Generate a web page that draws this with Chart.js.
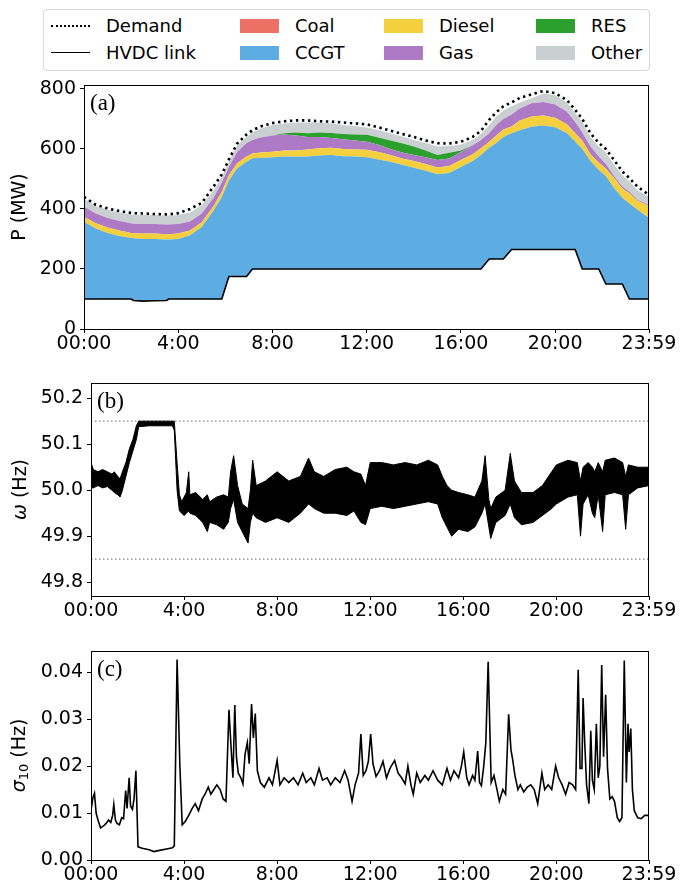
<!DOCTYPE html>
<html lang="en">
<head>
<meta charset="UTF-8">
<title>Dispatch, frequency and sigma10 over one day</title>
<style>
  body { margin: 0; background: #fff; font-family: "DejaVu Sans", sans-serif; }
  #fig { position: relative; width: 681px; height: 888px; overflow: hidden; }
  #fig canvas { position: absolute; left: 0; }
  #legend { position: absolute; left: 43px; top: 9px; width: 605px; height: 60px;
            border: 1px solid #d6d6d6; border-radius: 4px; box-sizing: content-box; }
  .lg-handle { position: absolute; width: 39px; }
  .lg-text { position: absolute; font-size: 18px; line-height: 20px; color: #000; white-space: nowrap; }
</style>
</head>
<body>
<div id="fig">
  <div id="legend"></div>
  <canvas id="powerChart" width="681" height="290" style="top:75px"></canvas>
  <canvas id="freqChart" width="681" height="260" style="top:370px"></canvas>
  <canvas id="sigmaChart" width="681" height="253" style="top:635px"></canvas>
</div>

<script src="https://cdn.jsdelivr.net/npm/chart.js"></script>
<script>
// ---- panel (a): power by source, MW ----
const hours = [0, 0.5, 1, 1.5, 2, 2.1, 2.5, 3, 3.5, 3.6, 4, 4.5, 5, 5.5, 5.85, 6.15, 6.5, 6.9, 7.15, 7.5,
  8, 8.5, 9, 9.5, 10, 10.5, 11, 11.5, 12, 12.5, 13, 13.5, 14, 14.5, 15, 15.5, 16, 16.5, 16.85, 17.2,
  17.5, 17.8, 18.15, 18.5, 19, 19.5, 20, 20.5, 20.85, 21.15, 21.5, 21.85, 22.15, 22.5, 22.85, 23.15, 23.5, 23.983];
const hvdc = [100, 100, 100, 100, 100, 95, 93, 94, 95, 100, 100, 100, 100, 100, 100, 175, 175, 175, 200, 200,
  200, 200, 200, 200, 200, 200, 200, 200, 200, 200, 200, 200, 200, 200, 200, 200, 200, 200, 200, 233,
  233, 233, 265, 265, 265, 265, 265, 265, 265, 200, 200, 200, 150, 150, 150, 100, 100, 100];
const coal = [0, 0, 0, 0, 0, 0, 0, 0, 0, 0, 0, 0, 0, 0, 0, 0, 0, 0, 0, 0,
  0, 0, 0, 0, 0, 0, 0, 0, 0, 0, 0, 0, 0, 0, 0, 0, 0, 0, 0, 0,
  0, 0, 0, 0, 0, 0, 0, 0, 0, 0, 0, 0, 0, 0, 0, 0, 0, 0];
const ccgt = [257, 235, 220, 210, 203, 207, 207, 206, 203, 198, 200, 212, 240, 295, 340, 320, 360, 382, 369, 370,
  372, 375, 374, 375, 378, 380, 376, 375, 372, 365, 357, 347, 337, 327, 316, 320, 340, 360, 380, 371,
  387, 407, 387, 397, 409, 413, 407, 387, 360, 400, 360, 330, 360, 320, 287, 318, 297, 270];
const diesel = [16, 17, 18, 18, 17, 17, 18, 18, 18, 18, 18, 16, 16, 15, 17, 17, 17, 18, 16, 18,
  19, 20, 21, 23, 24, 24, 24, 23, 25, 25, 23, 21, 23, 23, 22, 23, 23, 22, 22, 20,
  25, 25, 23, 33, 34, 33, 32, 30, 27, 28, 22, 25, 25, 33, 31, 34, 30, 40];
const gas = [35, 33, 32, 32, 32, 32, 32, 32, 32, 32, 32, 30, 29, 27, 31, 28, 38, 45, 45, 50,
  54, 53, 50, 42, 38, 32, 32, 30, 27, 24, 20, 20, 20, 22, 25, 25, 27, 30, 28, 28,
  35, 35, 40, 40, 44, 45, 44, 42, 38, 27, 26, 20, 15, 7, 7, 5, 4, 3];
const res = [0, 0, 0, 0, 0, 0, 0, 0, 0, 0, 0, 0, 0, 0, 0, 0, 0, 0, 0, 0,
  0, 4, 10, 12, 15, 17, 18, 20, 23, 24, 28, 31, 28, 23, 17, 19, 5, 0, 0, 0,
  0, 0, 0, 0, 0, 0, 0, 0, 0, 0, 0, 0, 0, 0, 0, 0, 0, 0];
const other = [27, 25, 28, 28, 30, 30, 30, 30, 30, 30, 30, 30, 27, 25, 19, 18, 22, 20, 25, 30,
  35, 33, 33, 36, 33, 32, 30, 28, 24, 25, 24, 22, 22, 25, 28, 23, 20, 18, 20, 28,
  28, 28, 27, 20, 17, 29, 32, 31, 30, 35, 32, 33, 38, 38, 37, 35, 31, 28];
const demand = [440, 414, 402, 393, 387, 386, 385, 383, 382, 382, 386, 400, 420, 475, 515, 565, 618, 648, 662, 675,
  686, 692, 695, 695, 692, 691, 688, 685, 682, 672, 661, 650, 640, 628, 619, 618, 624, 640, 660, 697,
  722, 742, 755, 770, 782, 793, 786, 763, 730, 700, 652, 620, 600, 563, 525, 503, 474, 447];

// ---- panel (b): frequency envelope, Hz ----
const freqHours = [0, 0.1, 0.3, 0.5, 0.7, 0.9, 1, 1.15, 1.25, 1.35, 1.5, 1.65, 1.8, 1.95, 2.05, 2.5, 3, 3.5, 3.58, 3.7,
  3.8, 3.9, 4, 4.1, 4.2, 4.25, 4.5, 4.8, 5, 5.1, 5.4, 5.7, 5.9, 6, 6.13, 6.3, 6.5, 6.75, 6.85, 6.95,
  7.1, 7.5, 8, 8.5, 9, 9.35, 9.6, 10, 10.5, 11, 11.3, 11.6, 11.8, 12, 12.5, 13, 13.5, 14, 14.5, 14.9,
  15.1, 15.3, 15.5, 15.8, 16.2, 16.5, 16.8, 16.94, 17.1, 17.18, 17.4, 17.8, 18.02, 18.2, 18.5, 19, 19.4, 19.8, 20, 20.5,
  20.9, 21.04, 21.15, 21.37, 21.55, 21.65, 21.8, 21.99, 22.1, 22.5, 22.85, 22.98, 23.1, 23.5, 23.983];
const freqHigh = [50.060, 50.045, 50.040, 50.045, 50.040, 50.035, 50.040, 50.030, 50.025, 50.040, 50.060, 50.090, 50.110, 50.140, 50.150, 50.150, 50.150, 50.150, 50.150, 50.060,
  49.990, 49.975, 49.985, 49.995, 50.040, 49.990, 49.995, 49.980, 49.990, 49.975, 49.985, 49.990, 49.985, 50.040, 50.075, 50.010, 49.970, 49.960, 50.000, 50.065,
  50.010, 50.020, 50.040, 50.020, 50.030, 50.070, 50.040, 50.030, 50.045, 50.050, 50.040, 50.035, 50.010, 50.060, 50.060, 50.055, 50.060, 50.055, 50.065, 50.055,
  50.030, 50.010, 50.000, 49.995, 49.990, 49.985, 50.020, 50.075, 49.980, 49.960, 49.985, 50.000, 50.080, 50.020, 49.995, 49.995, 50.010, 50.040, 50.055, 50.065,
  50.060, 50.020, 50.050, 50.060, 50.050, 50.040, 50.060, 50.040, 50.065, 50.070, 50.060, 50.030, 50.055, 50.050, 50.050];
const freqLow = [50.005, 50.005, 50.010, 50.005, 50.008, 50.000, 49.995, 49.990, 49.985, 50.000, 50.030, 50.060, 50.085, 50.110, 50.138, 50.140, 50.140, 50.140, 50.130, 50.000,
  49.955, 49.950, 49.945, 49.950, 49.955, 49.950, 49.945, 49.930, 49.910, 49.930, 49.925, 49.915, 49.930, 49.960, 49.980, 49.930, 49.910, 49.885, 49.930, 49.950,
  49.940, 49.930, 49.940, 49.930, 49.950, 49.970, 49.960, 49.950, 49.950, 49.945, 49.955, 49.930, 49.925, 49.960, 49.965, 49.960, 49.965, 49.970, 49.975, 49.970,
  49.940, 49.920, 49.900, 49.915, 49.910, 49.920, 49.950, 49.970, 49.920, 49.895, 49.930, 49.945, 49.970, 49.940, 49.925, 49.930, 49.945, 49.960, 49.970, 49.985,
  49.990, 49.900, 49.970, 49.990, 49.950, 49.940, 49.990, 49.910, 49.990, 49.995, 49.990, 49.915, 49.990, 50.005, 50.010];
const freqLimits = [50.15, 49.85];

// ---- panel (c): sigma10, Hz ----
const sigmaHours = [0, 0.08, 0.15, 0.22, 0.3, 0.41, 0.55, 0.65, 0.75, 0.85, 0.93, 0.98, 1.05, 1.12, 1.22, 1.32, 1.4, 1.49, 1.55, 1.64,
  1.7, 1.78, 1.85, 1.93, 2.02, 2.2, 2.5, 2.7, 3, 3.3, 3.5, 3.58, 3.7, 3.82, 3.92, 4.05, 4.2, 4.35, 4.48, 4.62,
  4.78, 4.9, 5.04, 5.15, 5.28, 5.41, 5.55, 5.68, 5.8, 5.93, 6.02, 6.1, 6.18, 6.25, 6.33, 6.44, 6.53, 6.62, 6.72, 6.8,
  6.9, 6.98, 7.06, 7.15, 7.28, 7.45, 7.65, 7.8, 8, 8.12, 8.3, 8.5, 8.7, 8.9, 9.1, 9.25, 9.45, 9.6, 9.8, 9.95,
  10.15, 10.3, 10.5, 10.7, 10.9, 11.05, 11.22, 11.35, 11.5, 11.6, 11.7, 11.82, 11.92, 12.02, 12.12, 12.25, 12.4, 12.55, 12.7, 12.85,
  13.05, 13.2, 13.35, 13.5, 13.62, 13.75, 13.85, 14, 14.15, 14.35, 14.5, 14.7, 14.9, 15.1, 15.3, 15.45, 15.6, 15.8, 15.92, 16.02,
  16.15, 16.25, 16.4, 16.5, 16.62, 16.7, 16.78, 16.88, 16.97, 17.07, 17.2, 17.32, 17.45, 17.55, 17.7, 17.82, 17.95, 18.05, 18.12, 18.22,
  18.35, 18.45, 18.6, 18.75, 18.9, 19.05, 19.2, 19.38, 19.5, 19.65, 19.8, 19.97, 20.1, 20.25, 20.4, 20.55, 20.7, 20.83, 20.94, 21.02,
  21.1, 21.15, 21.22, 21.3, 21.4, 21.48, 21.55, 21.63, 21.72, 21.8, 21.87, 21.95, 22.03, 22.12, 22.2, 22.3, 22.4, 22.5, 22.62, 22.72,
  22.82, 22.92, 23.01, 23.08, 23.13, 23.2, 23.27, 23.35, 23.5, 23.65, 23.8, 23.983];
const sigma10 = [0.0105, 0.0132, 0.0142, 0.0100, 0.0085, 0.0068, 0.0073, 0.0078, 0.0085, 0.0080, 0.0095, 0.0118, 0.0085, 0.0078, 0.0075, 0.0090, 0.0088, 0.0148, 0.0110, 0.0175,
  0.0115, 0.0108, 0.0130, 0.0190, 0.0028, 0.0025, 0.0022, 0.0018, 0.0021, 0.0024, 0.0026, 0.0030, 0.0427, 0.0200, 0.0075, 0.0082, 0.0095, 0.0110, 0.0120, 0.0105,
  0.0130, 0.0140, 0.0155, 0.0140, 0.0150, 0.0160, 0.0150, 0.0130, 0.0125, 0.0320, 0.0240, 0.0175, 0.0330, 0.0220, 0.0185, 0.0175, 0.0162, 0.0225, 0.0250, 0.0205,
  0.0332, 0.0260, 0.0312, 0.0190, 0.0165, 0.0155, 0.0175, 0.0160, 0.0212, 0.0160, 0.0175, 0.0165, 0.0175, 0.0160, 0.0185, 0.0165, 0.0175, 0.0160, 0.0195, 0.0170,
  0.0175, 0.0160, 0.0175, 0.0165, 0.0190, 0.0170, 0.0125, 0.0160, 0.0185, 0.0268, 0.0180, 0.0190, 0.0210, 0.0268, 0.0205, 0.0178, 0.0190, 0.0210, 0.0175, 0.0195,
  0.0212, 0.0185, 0.0175, 0.0162, 0.0200, 0.0160, 0.0140, 0.0185, 0.0165, 0.0180, 0.0170, 0.0190, 0.0170, 0.0160, 0.0195, 0.0170, 0.0190, 0.0175, 0.0200, 0.0230,
  0.0175, 0.0160, 0.0180, 0.0170, 0.0232, 0.0165, 0.0158, 0.0200, 0.0250, 0.0422, 0.0165, 0.0180, 0.0150, 0.0125, 0.0150, 0.0140, 0.0310, 0.0235, 0.0215, 0.0180,
  0.0150, 0.0160, 0.0145, 0.0155, 0.0160, 0.0150, 0.0120, 0.0185, 0.0150, 0.0160, 0.0150, 0.0200, 0.0175, 0.0160, 0.0140, 0.0165, 0.0160, 0.0150, 0.0405, 0.0195,
  0.0195, 0.0345, 0.0250, 0.0160, 0.0120, 0.0275, 0.0170, 0.0150, 0.0290, 0.0175, 0.0200, 0.0415, 0.0220, 0.0352, 0.0195, 0.0130, 0.0135, 0.0125, 0.0090, 0.0082,
  0.0090, 0.0425, 0.0165, 0.0290, 0.0230, 0.0280, 0.0150, 0.0105, 0.0090, 0.0088, 0.0095, 0.0095];

// ---- axes ----
const xTickHours = [0, 4, 8, 12, 16, 20, 23.983];
const xTickLabels = ['00:00', '4:00', '8:00', '12:00', '16:00', '20:00', '23:59'];
const powerTicks = [0, 200, 400, 600, 800];
const freqTicks = [49.8, 49.9, 50.0, 50.1, 50.2];
const sigmaTicks = [0, 0.01, 0.02, 0.03, 0.04];

const sourceNames = ['Coal', 'CCGT', 'Diesel', 'Gas', 'RES', 'Other'];
const sourceColors = ['#ec7063', '#5dade2', '#f4d03f', '#af7ac5', '#2ca02c', '#cacfd2'];

const FONT = 'DejaVu Sans';
const tickFont = { family: FONT, size: 19 };

// legend, laid out column by column like the original figure
const legendCols = [
  [{ name: 'Demand', line: 'dotted' }, { name: 'HVDC link', line: 'solid' }],
  [{ name: 'Coal', color: sourceColors[0] }, { name: 'CCGT', color: sourceColors[1] }],
  [{ name: 'Diesel', color: sourceColors[2] }, { name: 'Gas', color: sourceColors[3] }],
  [{ name: 'RES', color: sourceColors[4] }, { name: 'Other', color: sourceColors[5] }]
];
const legendColX = [7, 196, 340, 492];
const legendRowY = [16, 43];
(function buildLegend() {
  const box = document.getElementById('legend');
  legendCols.forEach((col, c) => col.forEach((item, r) => {
    const h = document.createElement('div');
    h.className = 'lg-handle';
    h.style.left = legendColX[c] + 'px';
    if (item.line) {
      h.style.top = (legendRowY[r] - 1) + 'px';
      h.style.height = '0';
      h.style.borderTop = item.line === 'dotted' ? '2px dotted #000' : '1.5px solid #000';
    } else {
      h.style.top = (legendRowY[r] - 7) + 'px';
      h.style.height = '14px';
      h.style.background = item.color;
    }
    box.appendChild(h);
    const t = document.createElement('div');
    t.className = 'lg-text';
    t.textContent = item.name;
    t.style.left = (legendColX[c] + 55) + 'px';
    t.style.top = (legendRowY[r] - 10) + 'px';
    box.appendChild(t);
  }));
})();

// fixed axis sizes so the three plot areas line up like the original
function fixSize(size) {
  return function (scale) {
    if (scale.isHorizontal()) scale.height = size; else scale.width = size;
    scale.paddingLeft = 0; scale.paddingRight = 0;
    scale.paddingTop = 0; scale.paddingBottom = 0;
  };
}
function setTicks(values) {
  return function (scale) { scale.ticks = values.map(v => ({ value: v })); };
}

// axes frame, panel letter and a y title with an italic symbol
const framePlugin = {
  id: 'frame',
  afterDraw(chart, args, opts) {
    const { ctx, chartArea: a } = chart;
    ctx.save();
    ctx.strokeStyle = '#000';
    ctx.lineWidth = 1;
    ctx.strokeRect(Math.round(a.left) + 0.5, Math.round(a.top) + 0.5,
      Math.round(a.right - a.left) - 1, Math.round(a.bottom - a.top));
    ctx.font = '23px "Liberation Serif"';
    ctx.fillStyle = '#000';
    ctx.textBaseline = 'top';
    ctx.fillText(opts.label, a.left + 6, a.top + 7);

    ctx.translate(opts.titleX, (a.top + a.bottom) / 2);
    ctx.rotate(-Math.PI / 2);
    ctx.textBaseline = 'middle';
    let total = 0;
    opts.title.forEach(p => { ctx.font = p.font; total += ctx.measureText(p.text).width; });
    let x = -total / 2;
    opts.title.forEach(p => {
      ctx.font = p.font;
      ctx.fillText(p.text, x, p.dy || 0);
      x += ctx.measureText(p.text).width;
    });
    ctx.restore();
  }
};

const upright = '19px "DejaVu Sans"';
const italic = 'italic 19px "DejaVu Sans"';

function makeOptions(o) {
  return {
    responsive: false,
    animation: false,
    devicePixelRatio: 1,
    layout: { padding: { top: o.padTop, right: 32, left: 0, bottom: 0 } },
    plugins: {
      legend: { display: false }, tooltip: { enabled: false },
      frame: { label: o.label, title: o.title, titleX: o.titleX }
    },
    elements: { point: { radius: 0 }, line: { tension: 0 } },
    scales: {
      x: {
        type: 'linear', min: 0, max: 23.983,
        afterFit: fixSize(o.xHeight),
        afterBuildTicks: setTicks(xTickHours),
        grid: { drawOnChartArea: false, tickLength: 4, color: '#000' },
        border: { display: false },
        ticks: {
          font: tickFont, color: '#000', padding: 0, maxRotation: 0, autoSkip: false,
          callback: (v, i) => xTickLabels[i]
        }
      },
      y: {
        type: 'linear', min: o.yMin, max: o.yMax,
        afterFit: fixSize(o.yWidth),
        afterBuildTicks: setTicks(o.yTicks),
        grid: { drawOnChartArea: false, tickLength: 4, color: '#000' },
        border: { display: false },
        ticks: {
          font: tickFont, color: '#000', padding: 4, autoSkip: false,
          callback: v => v.toFixed(o.decimals)
        }
      }
    }
  };
}

const pts = (xs, ys) => xs.map((x, i) => ({ x: x, y: ys[i] }));

// ---- panel (a) ----
const powerSets = [{
  label: 'HVDC link', data: pts(hours, hvdc), borderColor: '#000', borderWidth: 1.6, fill: false, order: 0
}];
let running = hvdc.slice();
[coal, ccgt, diesel, gas, res, other].forEach((series, k) => {
  running = running.map((b, i) => b + series[i]);
  powerSets.push({
    label: sourceNames[k], data: pts(hours, running), fill: '-1',
    backgroundColor: sourceColors[k], borderColor: sourceColors[k], borderWidth: 0, order: 1
  });
});
powerSets.push({
  label: 'Demand', data: pts(hours, demand), borderColor: '#000', borderWidth: 2.6,
  borderDash: [2.4, 3.6], fill: false, order: -1
});

new Chart(document.getElementById('powerChart'), {
  type: 'line',
  data: { datasets: powerSets },
  options: makeOptions({ label: '(a)', padTop: 10, xHeight: 36, yWidth: 84, yMin: 0, yMax: 813,
    yTicks: powerTicks, decimals: 0, titleX: 20,
    title: [{ text: 'P (MW)', font: upright }] }),
  plugins: [framePlugin]
});

// ---- panel (b) ----
new Chart(document.getElementById('freqChart'), {
  type: 'line',
  data: {
    datasets: [
      { label: 'max', data: pts(freqHours, freqHigh), borderColor: '#000', borderWidth: 1, fill: false },
      { label: 'min', data: pts(freqHours, freqLow), borderColor: '#000', borderWidth: 1, fill: '-1', backgroundColor: '#000' },
      { label: 'upper limit', data: pts([0, 23.983], [freqLimits[0], freqLimits[0]]), borderColor: '#888', borderWidth: 1.2, borderDash: [1.5, 2.5], fill: false },
      { label: 'lower limit', data: pts([0, 23.983], [freqLimits[1], freqLimits[1]]), borderColor: '#888', borderWidth: 1.2, borderDash: [1.5, 2.5], fill: false }
    ]
  },
  options: makeOptions({ label: '(b)', padTop: 13, xHeight: 34, yWidth: 91, yMin: 49.77, yMax: 50.233,
    yTicks: freqTicks, decimals: 1, titleX: 21,
    title: [{ text: 'ω', font: italic }, { text: ' (Hz)', font: upright }] }),
  plugins: [framePlugin]
});

// ---- panel (c) ----
new Chart(document.getElementById('sigmaChart'), {
  type: 'line',
  data: {
    datasets: [
      { label: 'sigma10', data: pts(sigmaHours, sigma10), borderColor: '#000', borderWidth: 1.6, fill: false }
    ]
  },
  options: makeOptions({ label: '(c)', padTop: 16, xHeight: 28, yWidth: 91, yMin: 0, yMax: 0.0445,
    yTicks: sigmaTicks, decimals: 2, titleX: 20,
    title: [{ text: 'σ', font: italic }, { text: '10', font: '13px "DejaVu Sans"', dy: 5 }, { text: ' (Hz)', font: upright }] }),
  plugins: [framePlugin]
});
</script>
</body>
</html>
